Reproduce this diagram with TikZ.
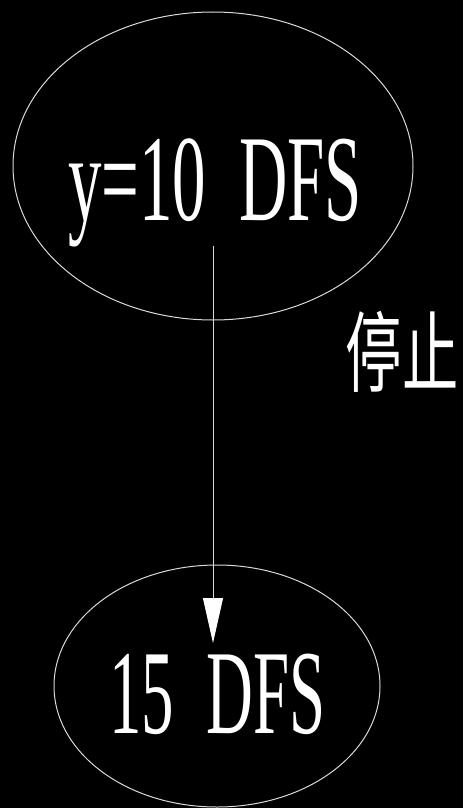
\documentclass[tikz,border=0pt]{standalone}
\usepackage{fontspec}
\setmainfont{Liberation Serif}
\newfontfamily\cjk{Noto Sans CJK SC}
\usetikzlibrary{shapes.geometric,arrows.meta}
\tikzset{
  oval/.style={draw=white!85!black, line width=1pt, ellipse, inner sep=0pt},
  bigtext/.style={text=white, inner sep=0pt},
  conn/.style={draw=white!85!black, line width=1pt, -{Triangle[length=45pt,width=20pt,fill=white,color=white]}}
}
\begin{document}
\begin{tikzpicture}[x=1pt,y=-1pt]
\fill[black] (0,0) rectangle (463,808);
\useasboundingbox (0,0) rectangle (463,808);
\node[oval, minimum width=400pt, minimum height=308pt] (top) at (213,166) {};
\node[oval, minimum width=326pt, minimum height=242pt] (bot) at (217,686) {};
\node[bigtext, anchor=base west] (t1) at (68,220) {\scalebox{0.544}[1]{\fontsize{123}{123}\selectfont y=10\hspace{0.49em}DFS}};
\node[bigtext, anchor=base west] (t2) at (109,733) {\scalebox{0.54}[1]{\fontsize{120}{120}\selectfont 15\hspace{0.5em}DFS}};
\node[bigtext] (stop) at (402,352) {\scalebox{0.64}[1]{\fontsize{88}{88}\selectfont\cjk 停止}};
\coordinate (a) at (213,246);
\coordinate (b) at (213,643);
\draw[conn] (a) -- (b);
\end{tikzpicture}
\end{document}
